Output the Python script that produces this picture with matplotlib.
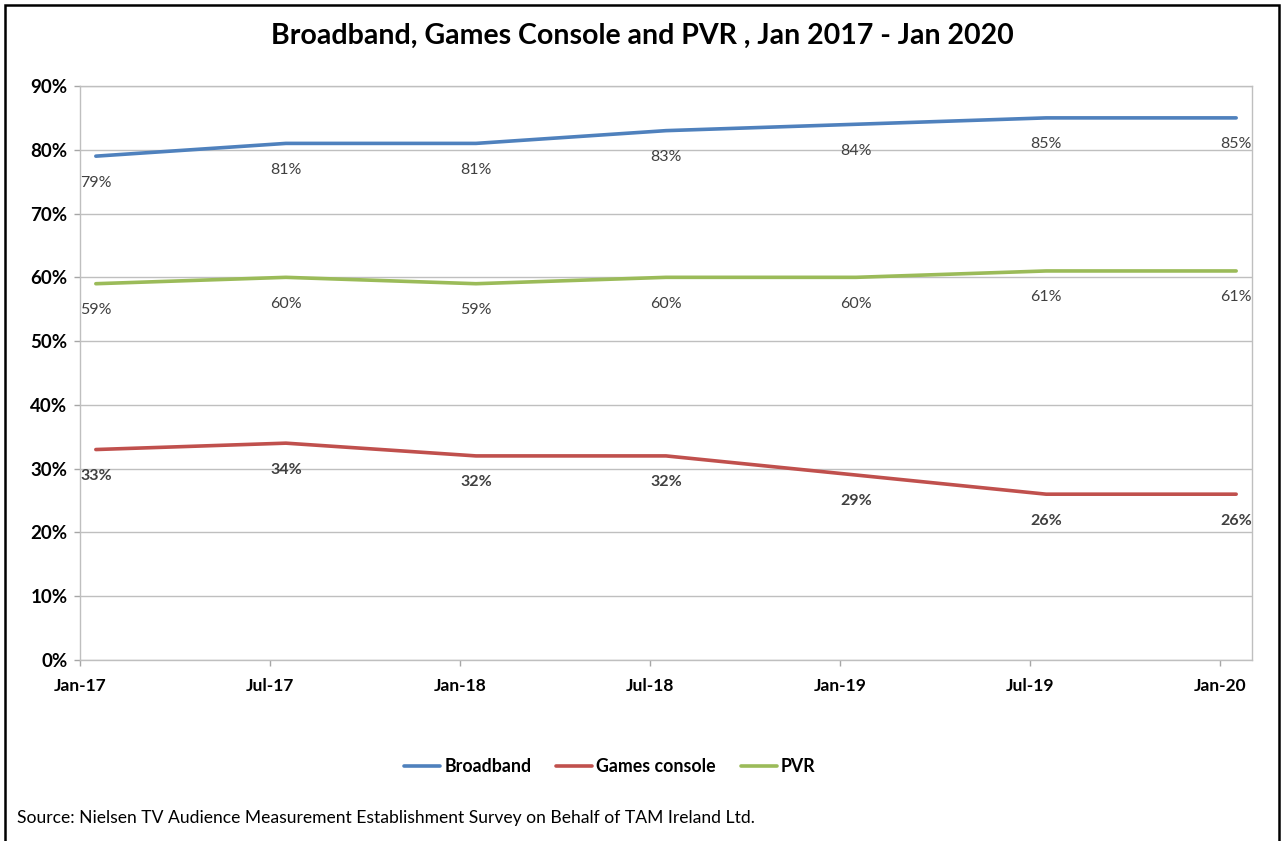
import matplotlib
matplotlib.use("Agg")
import matplotlib.pyplot as plt
from matplotlib.patches import Rectangle

# data
meses = [0, 6, 12, 18, 24, 30, 36]   # months since Jan 2017
etiquetas_x = ["Jan-17", "Jul-17", "Jan-18", "Jul-18", "Jan-19", "Jul-19", "Jan-20"]
broadband = [79, 81, 81, 83, 84, 85, 85]
games_console = [33, 34, 32, 32, 29, 26, 26]
pvr = [59, 60, 59, 60, 60, 61, 61]

fuente = ["Lato", "DejaVu Sans"]
plt.rcParams["font.family"] = fuente

fig = plt.figure(figsize=(12.88, 8.41), dpi=100)
ax = fig.add_axes([80 / 1288, 1 - 660 / 841, (1252 - 80) / 1288, (660 - 86) / 841])

series = [
    ("Broadband", broadband, "#4F81BD", "normal"),
    ("Games console", games_console, "#C0504D", "bold"),
    ("PVR", pvr, "#9BBB59", "normal"),
]

xs = [m + 0.5 for m in meses]
for nombre, valores, color, peso in series:
    ys = [v / 100 for v in valores]
    ax.plot(xs, ys, color=color, lw=2.6, label=nombre, solid_capstyle="round")
    for x, y, v in zip(xs, ys, valores):
        ax.annotate(f"{v}%", (x, y), xytext=(0, -19), textcoords="offset points",
                    ha="center", va="center", fontsize=11.5, color="#404040",
                    fontweight=peso)

ax.set_xlim(0, 37)
ax.set_ylim(0, 0.9)
ax.set_xticks(meses)
ax.set_xticklabels(etiquetas_x, fontsize=12.5, fontweight="bold")
yt = [i / 10 for i in range(10)]
ax.set_yticks(yt)
ax.set_yticklabels([f"{int(t * 100)}%" for t in yt], fontsize=13.5, fontweight="bold")
ax.tick_params(axis="both", length=4, color="#A6A6A6", width=1, colors="black")
ax.tick_params(axis="x", pad=9)
ax.tick_params(axis="y", pad=5)
ax.grid(axis="y", color="#BFBFBF", lw=1)
ax.set_axisbelow(True)
for s in ax.spines.values():
    s.set_color("#BFBFBF")
    s.set_linewidth(1)

fig.text(642 / 1288, 1 - 36 / 841, "Broadband, Games Console and PVR , Jan 2017 - Jan 2020",
         ha="center", va="center", fontsize=20.5, fontweight="bold")

fig.legend(loc="center", bbox_to_anchor=(610 / 1288, 1 - 767 / 841), ncol=3, frameon=False,
           prop={"size": 12.8, "weight": "bold"}, handlelength=2.0, handletextpad=0.25,
           columnspacing=1.4)

fig.text(17 / 1288, 1 - 818 / 841,
         "Source: Nielsen TV Audience Measurement Establishment Survey on Behalf of TAM Ireland Ltd.",
         ha="left", va="center", fontsize=12.6)

fig.patches.append(Rectangle((5 / 1288, -0.05), (1279 - 5) / 1288, 1.05 - 5 / 841,
                             transform=fig.transFigure, fill=False, ec="black", lw=1.8))

fig.savefig("out.png", dpi=100)
